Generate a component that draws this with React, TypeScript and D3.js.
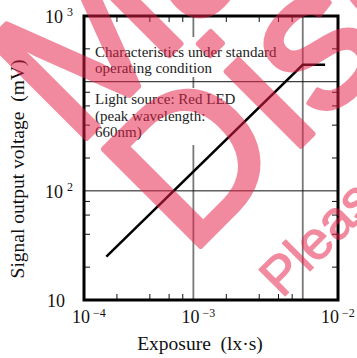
import React from 'react'
import * as d3 from 'd3'

const W = 357
const H = 358
const margin = { top: 16, right: 19, bottom: 58, left: 84 }

// measured curve (exposure in lx·s, output in mV)
const exposure = [1.6e-4, 1.0e-2, 1.6e-2]
const outputMV = [25, 1430, 1430]

const xDomain = [1e-4, 2.1e-2]
const yDomain = [10, 4e3]
const xGrid = [1e-3, 1e-2]
const yGrid = [1e2, 1e3]
const xMinorTicks = [2e-4, 4e-4, 6e-4, 8e-4, 2e-3, 4e-3, 6e-3, 8e-3]
const yMinorTicks = [20, 40, 60, 80, 200, 400, 600, 800, 2000]
const xTickExp = ['−4', '−3', '−2']
const xTickAt = [1e-4, 1e-3, 2.1e-2]
const yTickExp = ['', '2', '3']
const yTickAt = [10, 1e2, 4e3]
const note1 = ['Characteristics under standard', 'operating condition']
const note2 = ['Light source: Red LED', '(peak wavelength:', '660nm)']

const serif = '"Liberation Serif", "DejaVu Serif", serif'
const sans = '"Liberation Sans", Arial, sans-serif'
const pink = 'rgb(232,32,72)'

const App = () => {
  const x = d3.scaleLog().domain(xDomain).range([margin.left, W - margin.right])
  const y = d3.scaleLog().domain(yDomain).range([H - margin.bottom, margin.top])
  const [x0, x1] = x.range()
  const [y0, y1] = y.range()

  const line = d3
    .line<number>()
    .x((d, i) => x(exposure[i]))
    .y(d => y(d))

  return (
    <svg width={W} height={H} style={{ position: 'absolute', left: 0, top: 0, background: '#fff' }}>
      {/* grid */}
      {xGrid.map(v => (
        <line key={'gx' + v} x1={x(v)} x2={x(v)} y1={y1} y2={y0} stroke="#777" strokeWidth={1.8} />
      ))}
      {yGrid.map(v => (
        <line key={'gy' + v} x1={x0} x2={x1} y1={y(v)} y2={y(v)} stroke="#111" strokeWidth={1} />
      ))}

      {/* minor ticks, inside, all four sides */}
      {xMinorTicks.map(v => (
        <g key={'tx' + v} stroke="#111" strokeWidth={1}>
          <line x1={x(v)} x2={x(v)} y1={y0} y2={y0 - 6} />
          <line x1={x(v)} x2={x(v)} y1={y1} y2={y1 + 6} />
        </g>
      ))}
      {yMinorTicks.map(v => (
        <g key={'ty' + v} stroke="#111" strokeWidth={1}>
          <line x1={x0} x2={x0 + 6} y1={y(v)} y2={y(v)} />
          <line x1={x1} x2={x1 - 6} y1={y(v)} y2={y(v)} />
        </g>
      ))}

      {/* notes with white backing */}
      <rect x={92} y={37} width={190} height={40} fill="#fff" />
      <rect x={92} y={88} width={140} height={57} fill="#fff" />
      <g fontFamily={serif} fontSize={15} fill="#222">
        {note1.map((t, i) => (
          <text key={t} x={95} y={57 + i * 16}>{t}</text>
        ))}
        {note2.map((t, i) => (
          <text key={t} x={95} y={104 + i * 16.5}>{t}</text>
        ))}
      </g>

      {/* curve */}
      <path d={line(outputMV) || ''} fill="none" stroke="#000" strokeWidth={2.5} />

      {/* frame */}
      <rect x={x0} y={y1} width={x1 - x0} height={y0 - y1} fill="none" stroke="#000" strokeWidth={3} />

      {/* tick labels */}
      <g fontFamily={serif} fill="#111">
        {xTickAt.map((v, i) => {
          const lx = Math.min(x(v) - 12, W - 36)
          return (
            <g key={'lx' + i}>
              <text x={lx} y={323} fontSize={18}>10</text>
              <text x={lx + 21} y={317} fontSize={12}>{xTickExp[i]}</text>
            </g>
          )
        })}
        {yTickAt.map((v, i) => (
          <g key={'ly' + i}>
            <text x={yTickExp[i] ? 63 : 65} y={y(v) + 7} fontSize={18} textAnchor="end">10</text>
            <text x={67} y={y(v)} fontSize={12}>{yTickExp[i]}</text>
          </g>
        ))}
      </g>

      {/* axis titles */}
      <text
        transform="translate(24,169) rotate(-90)"
        textAnchor="middle"
        fontFamily={serif}
        fontSize={19.5}
        fill="#111"
        style={{ whiteSpace: 'pre' }}
      >
        {'Signal output voltage  (mV)'}
      </text>
      <text x={200} y={350} textAnchor="middle" fontFamily={serif} fontSize={19.5} fill="#111" style={{ whiteSpace: 'pre' }}>
        {'Exposure  (lx·s)'}
      </text>

      {/* watermark */}
      <g fontFamily={sans} fill={pink} stroke={pink} strokeLinejoin="round" opacity={0.52}>
        <text transform="translate(75,150) rotate(-45)" fontSize={200} strokeWidth={5}>Mass production</text>
        <text transform="translate(189,258) rotate(-45)" fontSize={200} strokeWidth={5}>Discontinued</text>
        <text transform="translate(282,299) rotate(-45)" fontSize={54} strokeWidth={1.2}>Please contact us</text>
      </g>
    </svg>
  )
}

export default App
